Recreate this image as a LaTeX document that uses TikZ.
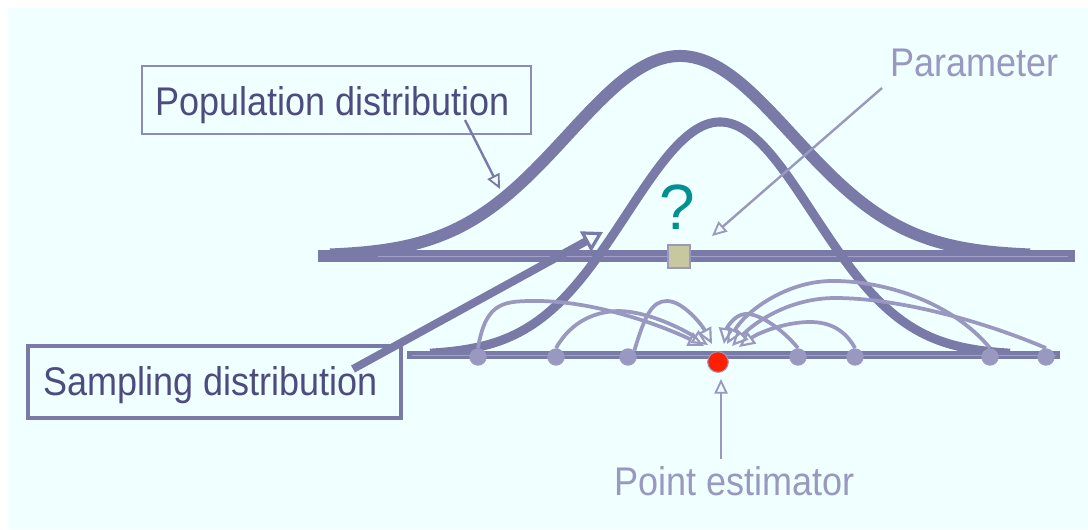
\documentclass[tikz,border=0pt]{standalone}
\usepackage{fontspec}
\setmainfont{Liberation Sans}
\newfontfamily\labfont[FakeStretch=0.9]{Liberation Sans}
\usetikzlibrary{arrows.meta}
\definecolor{bgc}{RGB}{240,255,255}
\definecolor{darkc}{RGB}{122,122,168}
\definecolor{lightc}{RGB}{152,152,192}
\definecolor{axisl}{RGB}{160,160,202}
\definecolor{boxc}{RGB}{140,140,184}
\definecolor{txtc}{RGB}{76,76,128}
\definecolor{tealc}{RGB}{0,144,144}
\definecolor{sqc}{RGB}{200,200,160}
\definecolor{redc}{RGB}{255,32,0}
\begin{document}
\begin{tikzpicture}[x=0.75pt,y=-0.75pt,
  lbl/.style={font=\labfont\fontsize{30}{36}\selectfont, inner sep=0pt, anchor=base west},
  axisline/.style={draw=darkc, line width=9pt},
  axislow/.style={draw=darkc, line width=6.5pt},
  axismid/.style={draw=axisl, line width=0.5pt},
  popc/.style={draw=darkc, line width=9pt},
  sampc/.style={draw=darkc, line width=6.8pt},
  ptc/.style={circle, fill=lightc, inner sep=0pt, minimum size=13pt},
  estc/.style={circle, fill=redc, draw=lightc, line width=0.8pt, inner sep=0pt, minimum size=15.5pt},
  samparrow/.style={draw=lightc, line width=2.8pt, -{Triangle[open, length=12pt, width=11pt, line width=1.6pt]}},
  thinarrow/.style={line width=1.8pt, -{Triangle[open, length=11pt, width=10pt, line width=1.4pt]}},
  thickarrow/.style={draw=darkc, line width=6pt, -{Triangle[open, length=15pt, width=17pt, line width=2.4pt]}},
  popbox/.style={draw=boxc, line width=1.1pt, minimum width=291.75pt, minimum height=51pt, inner sep=0pt},
  sampbox/.style={draw=darkc, line width=3pt, minimum width=279.75pt, minimum height=54pt, inner sep=0pt}
]
% background
\fill[white] (0,0) rectangle (1088,529);
\fill[bgc] (8,8) rectangle (1088,529);
\useasboundingbox (0,0) rectangle (1088,529);

% upper axis
\coordinate (ua1) at (318,256);
\coordinate (ua2) at (1075,256);
\coordinate (um1) at (378,256);
\coordinate (um2) at (1068,256);
\draw[axisline] (ua1) -- (ua2);

% population distribution curve
\draw[popc] plot[domain=330:1030, samples=180, smooth] (\x,{256-200*exp(-0.5*((\x-680)/112)^2)});
\draw[axismid] (um1) -- (um2);

% lower axis
\coordinate (la1) at (407,355);
\coordinate (la2) at (1060,355);
\coordinate (lm1) at (412,355);
\coordinate (lm2) at (1056,355);
\draw[axislow] (la1) -- (la2);

% sampling distribution curve
\draw[sampc] plot[domain=430:1010, samples=180, smooth] (\x,{355-233*exp(-0.5*((\x-720)/93)^2)});
\draw[axismid] (lm1) -- (lm2);

% parameter square and question mark
\node[draw=lightc, fill=sqc, line width=1.2pt, minimum width=16.5pt, minimum height=17pt, inner sep=0pt] (sq) at (679,256.5) {};
\node[font=\fontsize{48}{52}\selectfont, text=tealc, anchor=base, inner sep=0pt] (qm) at (677,229) {?};

% sample points
\foreach \i/\px in {1/478,2/556,3/628,5/798,6/855,7/990,8/1046}
  \node[ptc] (p\i) at (\px,357) {};
\node[estc] (est) at (718,362) {};

% arrow tips near the estimator
\coordinate (tA) at (704,346);
\coordinate (tB) at (708,345);
\coordinate (tC) at (712,344);
\coordinate (tD) at (724,344);
\coordinate (tE) at (739,347);
\coordinate (tF) at (727,344);
\coordinate (tG) at (732,346);

\draw[samparrow] (p1.north) .. controls (486,300) and (505,301) .. (540,301) .. controls (600,302) and (665,327) .. (tA);
\draw[samparrow] (p2.north) .. controls (572,320) and (597,311) .. (620,311) .. controls (650,312) and (684,330) .. (tB);
\draw[samparrow] (p3.north east) .. controls (645,315) and (652,301) .. (667,301) .. controls (683,301) and (702,325) .. (tC);
\draw[samparrow] (p5.north) .. controls (783,330) and (760,313) .. (745,314) .. controls (733,315) and (726,330) .. (tD);
\draw[samparrow] (p6.north) .. controls (845,330) and (830,322) .. (810,322) .. controls (785,322) and (758,333) .. (tE);
\draw[samparrow] (p7.north) .. controls (950,300) and (880,280) .. (830,281) .. controls (785,282) and (745,312) .. (tF);
\draw[samparrow] (p8.north) .. controls (985,322) and (900,298) .. (835,298) .. controls (790,298) and (755,322) .. (tG);

% population distribution label
\node[popbox] (popb) at (336.5,100) {};
\node[lbl, text=txtc] (popt) at (155,115) {Population distribution};
\coordinate (pa0) at (465,120);
\coordinate (pa1) at (500,189);
\draw[thinarrow, draw=darkc] (pa0) -- (pa1);

% sampling distribution label
\node[sampbox] (sampb) at (214.5,382) {};
\node[lbl, text=txtc] (sampt) at (43,395) {Sampling distribution};
\coordinate (sa0) at (353,369);
\coordinate (sa1) at (603,232);
\draw[thickarrow] (sa0) -- (sa1);

% parameter label
\node[lbl, text=lightc] (part) at (890,76) {Parameter};
\coordinate (pr0) at (882,88);
\coordinate (pr1) at (712,236);
\draw[thinarrow, draw=lightc] (pr0) -- (pr1);

% point estimator label
\node[lbl, text=lightc] (estt) at (614,495) {Point estimator};
\coordinate (pe0) at (721,459);
\coordinate (pe1) at (721,379);
\draw[thinarrow, draw=lightc] (pe0) -- (pe1);
\end{tikzpicture}
\end{document}
